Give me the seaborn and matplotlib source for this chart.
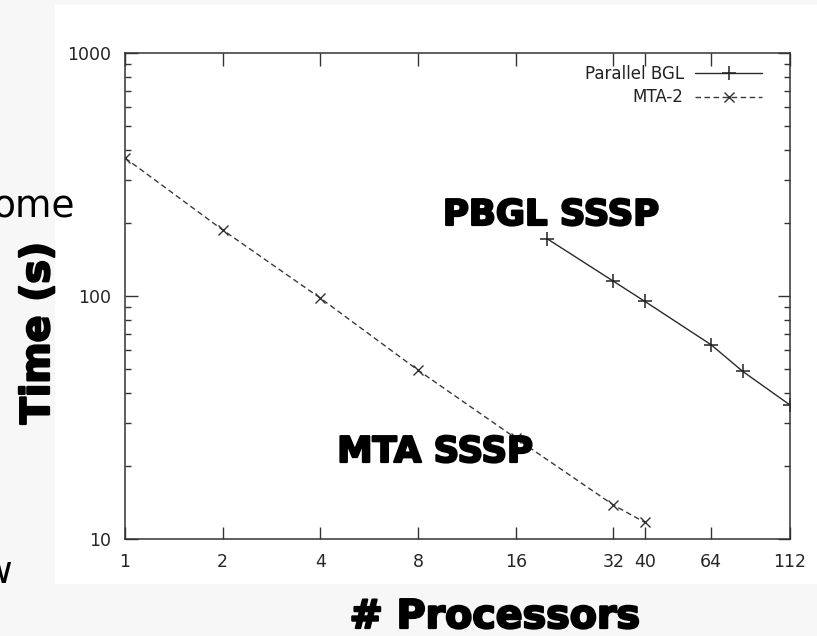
import matplotlib
matplotlib.use("Agg")
import matplotlib.pyplot as plt
import matplotlib.patheffects as pe
from matplotlib.patches import Rectangle
import seaborn as sns
import pandas as pd

# Data
procs_pbgl = [20, 32, 40, 64, 80, 112]
time_pbgl = [172, 115, 95, 63, 49, 35.6]
procs_mta = [1, 2, 4, 8, 16, 32, 40]
time_mta = [370, 187, 98, 49.5, 26, 13.8, 11.7]
xticks = [1, 2, 4, 8, 16, 32, 40, 64, 112]
xtick_labels = ["1", "2", "4", "8", "16", "32", "40", "64", "112"]
yticks = [10, 100, 1000]
ytick_labels = ["10", "100", "1000"]

sns.set_style("ticks")
plt.rcParams["font.family"] = ["DejaVu Sans"]

W, H = 817, 636
fig = plt.figure(figsize=(W / 100, H / 100), dpi=100)
fig.patch.set_facecolor("#f7f7f7")
fig.add_artist(Rectangle((55 / W, 1 - 584 / H), (W - 55) / W, (584 - 5) / H,
                         transform=fig.transFigure, facecolor="white",
                         edgecolor="none", zorder=0))

ax = fig.add_axes([125 / W, 1 - 539 / H, (790 - 125) / W, (539 - 53) / H])
ax.set_facecolor("white")

df_p = pd.DataFrame({"procs": procs_pbgl, "time": time_pbgl})
df_m = pd.DataFrame({"procs": procs_mta, "time": time_mta})

sns.lineplot(data=df_p, x="procs", y="time", ax=ax, color="#2a2a2a", lw=1.0,
             marker="+", markersize=10, markeredgewidth=1.1,
             markeredgecolor="#222222", label="Parallel BGL")
sns.lineplot(data=df_m, x="procs", y="time", ax=ax, color="#3a3a3a", lw=1.0,
             marker="x", markersize=7, markeredgewidth=1.0,
             markeredgecolor="#333333", dashes=(4, 2.5), label="MTA-2")

ax.set_xscale("log", base=2)
ax.set_yscale("log")
ax.set_xlim(1, 112)
ax.set_ylim(10, 1000)
ax.set_xticks(xticks)
ax.set_xticklabels(xtick_labels)
ax.xaxis.set_minor_locator(matplotlib.ticker.NullLocator())
ax.set_yticks(yticks)
ax.set_yticklabels(ytick_labels)
ax.yaxis.set_minor_locator(matplotlib.ticker.LogLocator(base=10, subs=range(2, 10)))
ax.yaxis.set_minor_formatter(matplotlib.ticker.NullFormatter())

ax.tick_params(axis="both", which="major", direction="in", length=9, width=1,
               color="#333333", labelsize=12.5, top=True, right=True, pad=10)
ax.tick_params(axis="y", which="minor", direction="in", length=4.5, width=1,
               color="#333333", left=True, right=True)
for s in ax.spines.values():
    s.set_color("#333333")
    s.set_linewidth(1.1)

ax.set_xlabel("")
ax.set_ylabel("")

leg = ax.legend(loc="upper right", bbox_to_anchor=(0.968, 0.99),
                frameon=False, markerfirst=False, borderaxespad=0,
                handlelength=4.0, fontsize=12, labelspacing=0.35,
                handletextpad=0.7)
for t in leg.get_texts():
    t.set_color("#222222")

heavy = [pe.withStroke(linewidth=1.6, foreground="black")]
fig.text(551 / W, 1 - 215 / H, "PBGL SSSP", ha="center", va="center",
         fontsize=25.5, fontweight="bold", color="black", path_effects=heavy)
fig.text(435 / W, 1 - 452 / H, "MTA SSSP", ha="center", va="center",
         fontsize=25.5, fontweight="bold", color="black", path_effects=heavy)
fig.text(495 / W, 1 - 617 / H, "# Processors", ha="center", va="center",
         fontsize=28.5, fontweight="bold", color="black", path_effects=heavy)
fig.text(38 / W, 1 - 333 / H, "Time (s)", ha="center", va="center",
         rotation=90, fontsize=28.5, fontweight="bold", color="black",
         path_effects=heavy)

# partial slide text visible at the left edge
fig.text(75 / W, 1 - 218 / H, "ome", ha="right", va="baseline",
         fontsize=27, color="black")
fig.text(12 / W, 1 - 583 / H, "w", ha="right", va="baseline",
         fontsize=27, color="black")

fig.savefig("out.png", dpi=100, facecolor=fig.get_facecolor())
